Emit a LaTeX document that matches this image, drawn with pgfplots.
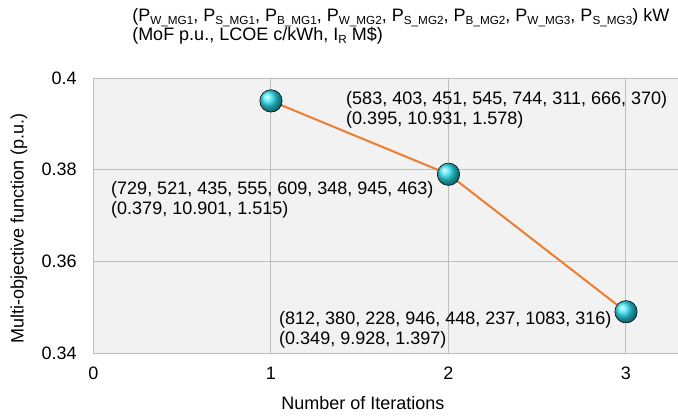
\documentclass[border=0pt]{standalone}
\usepackage{fontspec}
\setmainfont{Liberation Sans}
\usepackage{pgfplots}
\pgfplotsset{compat=1.18}

\definecolor{bgc}{RGB}{242,242,242}
\definecolor{gridc}{RGB}{191,191,191}
\definecolor{linec}{RGB}{237,125,49}
\definecolor{ballc}{RGB}{45,225,240}
\newcommand\sub[1]{\raisebox{-0.3ex}{\fontsize{8.8}{9}\selectfont #1}}

\begin{document}
\fontsize{13.5}{14}\selectfont
\begin{tikzpicture}
\begin{axis}[
    at={(0,0)}, anchor=south west,
    scale only axis,
    width=438.4pt, height=206.25pt,
    xmin=0, xmax=3.293,
    ymin=0.34, ymax=0.4,
    xtick={0,1,2,3},
    ytick={0.34,0.36,0.38,0.4},
    /pgf/number format/assume math mode=true,
    yticklabel style={/pgf/number format/fixed, /pgf/number format/precision=2,
        anchor=east, inner sep=0pt, xshift=-12.4pt},
    xticklabel style={anchor=center, inner sep=0pt, yshift=-15pt},
    ticklabel style={font=\fontsize{13.5}{14}\selectfont},
    major tick length=0pt,
    axis line style={draw=none},
    axis background/.style={fill=bgc},
    grid=major,
    grid style={gridc, line width=0.75pt},
    clip=false,
]
% markers first, the line lies on top of them
\addplot[only marks, mark=ball, mark size=8.4pt,
    mark options={ball color=ballc}]
    coordinates {(1,0.395)(2,0.379)(3,0.349)};
\addplot[linec, line width=1.5pt, no marks]
    coordinates {(1,0.395)(2,0.379)(3,0.349)};

% point labels
\node[anchor=base west, inner sep=0pt] at (axis cs:1.4225,0.39417) {(583, 403, 451, 545, 744, 311, 666, 370)};
\node[anchor=base west, inner sep=0pt] at (axis cs:1.4225,0.38981) {(0.395, 10.931, 1.578)};
\node[anchor=base west, inner sep=0pt] at (axis cs:0.0986,0.37460) {(729, 521, 435, 555, 609, 348, 945, 463)};
\node[anchor=base west, inner sep=0pt] at (axis cs:0.0986,0.37024) {(0.379, 10.901, 1.515)};
\node[anchor=base west, inner sep=0pt] at (axis cs:1.045,0.34624) {(812, 380, 228, 946, 448, 237, 1083, 316)};
\node[anchor=base west, inner sep=0pt] at (axis cs:1.045,0.34188) {(0.349, 9.928, 1.397)};

% header
\node[anchor=base west, inner sep=0pt] at (rel axis cs:0.0659,1) [yshift=42.5pt]
    {(P\sub{W\_MG1}, P\sub{S\_MG1}, P\sub{B\_MG1}, P\sub{W\_MG2}, P\sub{S\_MG2}, P\sub{B\_MG2}, P\sub{W\_MG3}, P\sub{S\_MG3}) kW};
\node[anchor=base west, inner sep=0pt] at (rel axis cs:0.0659,1) [yshift=28pt]
    {(MoF p.u., LCOE c/kWh, I\sub{R} M\$)};

% axis titles
\node[inner sep=0pt] at (rel axis cs:0.461,0) [yshift=-37.5pt] {Number of Iterations};
\node[inner sep=0pt, xshift=-55.9pt, rotate=90] at (rel axis cs:0,0.4545) {Multi-objective function (p.u.)};
\end{axis}
\pgfresetboundingbox
\path[use as bounding box] (-70.1pt,-49.5pt) rectangle (438.4pt,264.75pt);
\end{tikzpicture}
\end{document}
